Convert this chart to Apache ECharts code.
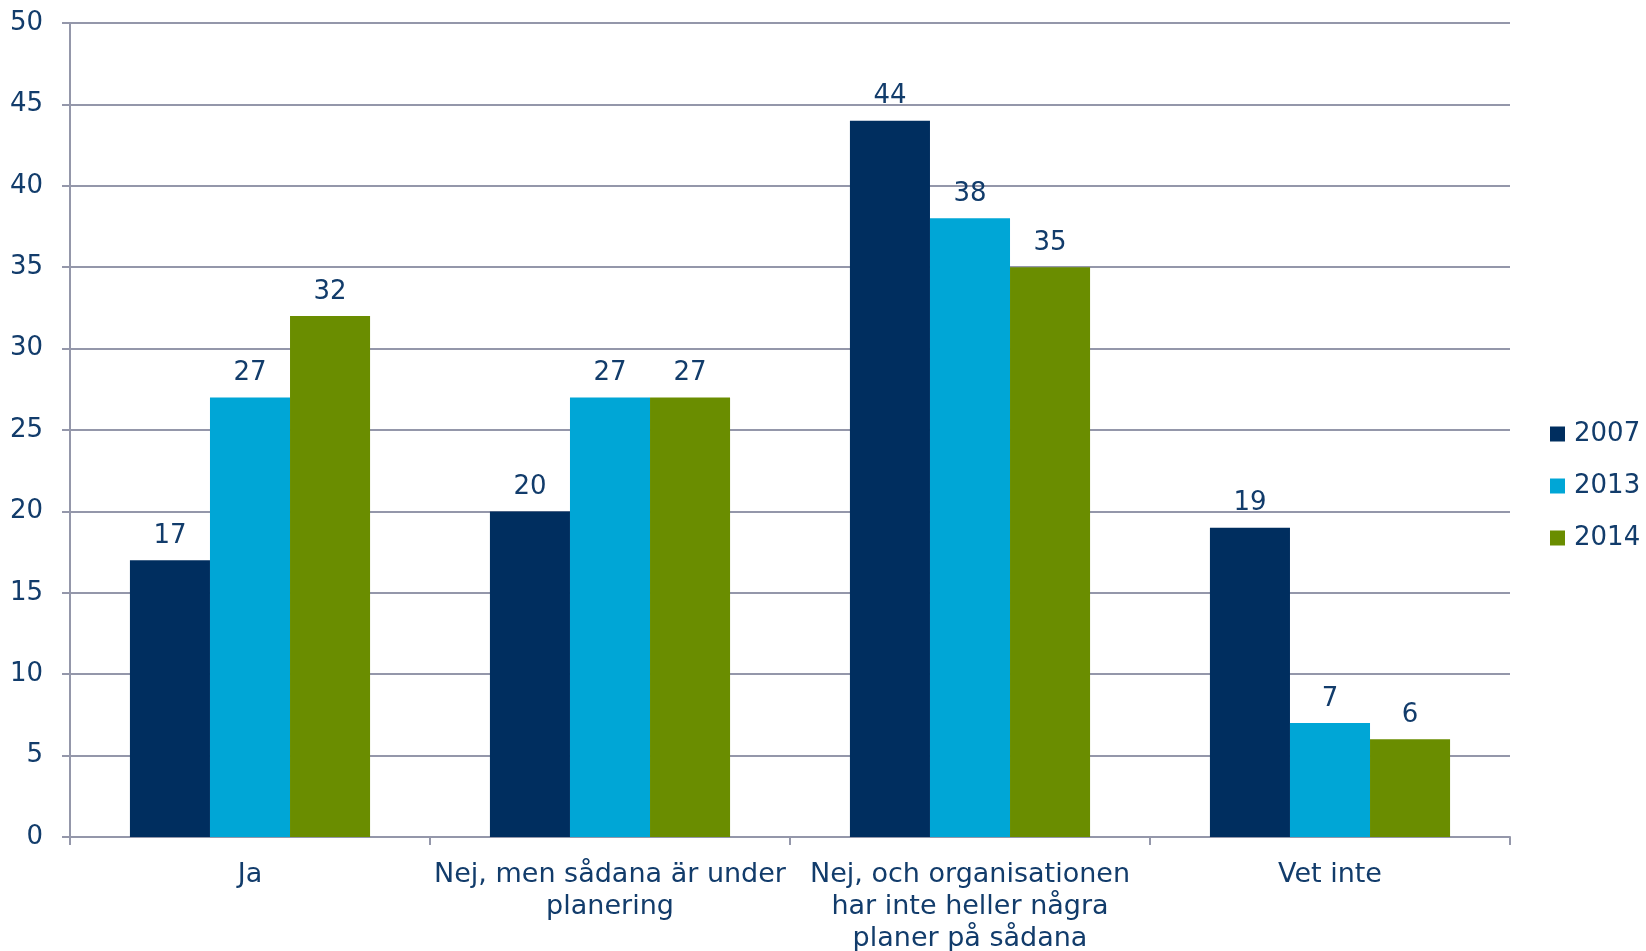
<!DOCTYPE html>
<html>
<head>
<meta charset="utf-8">
<script src="https://cdn.jsdelivr.net/npm/echarts@6/dist/echarts.min.js"></script>
<style>
  html, body { margin: 0; padding: 0; background: #fff; }
  #chart { width: 1646px; height: 951px; }
</style>
</head>
<body>
<div id="chart"></div>
<script>
const categories = [
  'Ja',
  'Nej, men sådana är under\nplanering',
  'Nej, och organisationen\nhar inte heller några\nplaner på sådana',
  'Vet inte'
];
const years = ['2007', '2013', '2014'];
const values2007 = [17, 20, 44, 19];
const values2013 = [27, 27, 38, 7];
const values2014 = [32, 27, 35, 6];
const colors = ['#002E5F', '#00A6D6', '#6A8D00'];

const textColor = '#123C6B';
const lineColor = '#9497AA';
const font = 'DejaVu Sans, Verdana, sans-serif';

let chartDom = document.getElementById('chart');
let myChart = echarts.init(chartDom);

function makeSeries(name, data, color) {
  return {
    name: name,
    type: 'bar',
    data: data,
    barGap: 0,
    barCategoryGap: '33.3%',
    itemStyle: {color: color},
    label: {
      show: true,
      position: 'top',
      distance: 11,
      color: textColor,
      fontFamily: font,
      fontSize: 26
    }
  }
}

myChart.setOption({
  animation: false,
  textStyle: {fontFamily: font},
  grid: {left: 70, right: 136, top: 23, bottom: 114, containLabel: false, outerBoundsMode: 'none'},
  legend: {
    orient: 'vertical',
    left: 1545,
    top: 416,
    itemWidth: 15,
    itemHeight: 15,
    itemGap: 26,
    icon: 'rect',
    textStyle: {color: textColor, fontSize: 26, fontFamily: font, padding: [0, 0, 0, 4]},
    data: years
  },
  xAxis: {
    type: 'category',
    data: categories,
    axisLine: {lineStyle: {color: lineColor, width: 2}},
    axisTick: {show: true, length: 8, lineStyle: {color: lineColor, width: 2}},
    axisLabel: {
      color: textColor,
      fontSize: 27,
      fontFamily: font,
      margin: 22,
      lineHeight: 32,
      interval: 0
    }
  },
  yAxis: {
    type: 'value',
    min: 0,
    max: 50,
    interval: 5,
    axisLine: {show: true, lineStyle: {color: lineColor, width: 2}},
    axisTick: {show: true, length: 8, lineStyle: {color: lineColor, width: 2}},
    splitLine: {lineStyle: {color: lineColor, width: 2}},
    axisLabel: {color: textColor, fontSize: 26, fontFamily: font, margin: 27}
  },
  series: [
    makeSeries(years[0], values2007, colors[0]),
    makeSeries(years[1], values2013, colors[1]),
    makeSeries(years[2], values2014, colors[2])
  ]
});
</script>
</body>
</html>
